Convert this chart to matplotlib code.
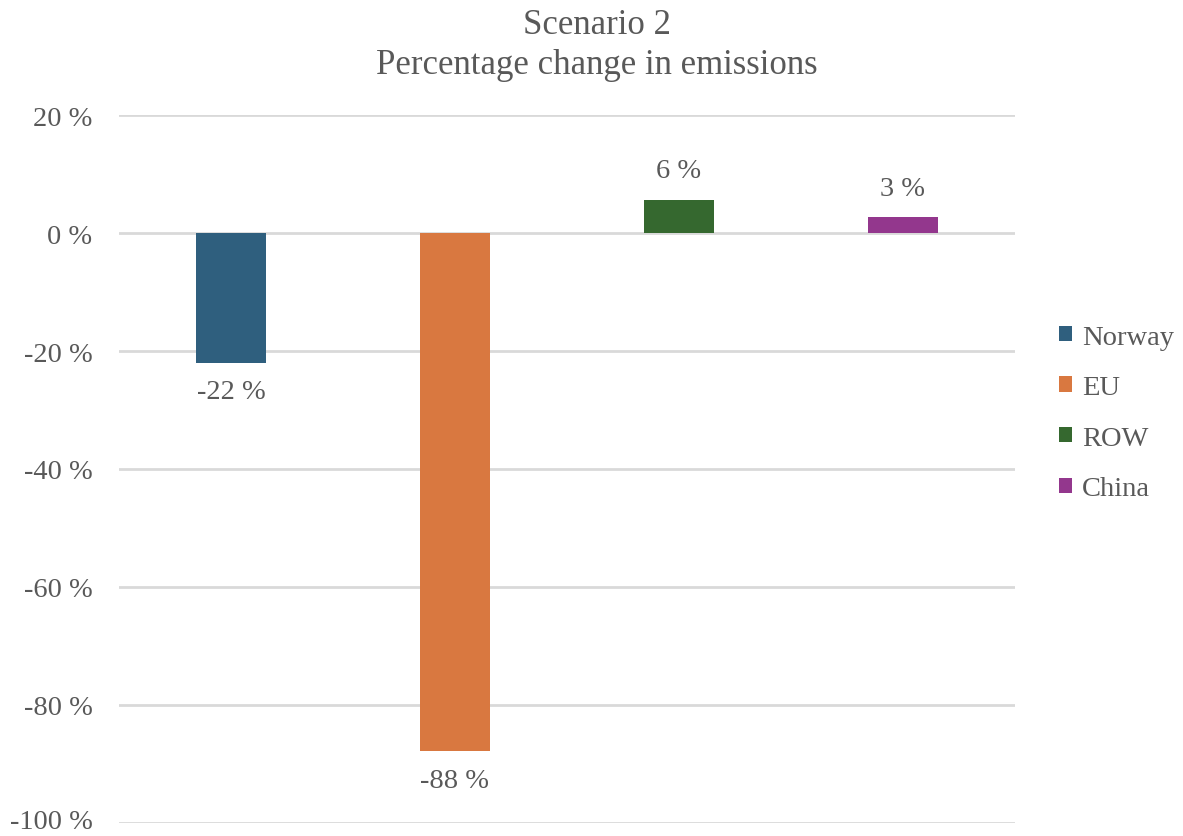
import matplotlib
matplotlib.use("Agg")
import matplotlib.pyplot as plt
import matplotlib.transforms as mtransforms
from matplotlib.patches import Patch

regions = ["Norway", "EU", "ROW", "China"]
change_pct = [-22.0, -87.8, 5.6, 2.7]
colors = ["#2F5F7E", "#D97840", "#35682F", "#93378D"]
y_ticks = [20, 0, -20, -40, -60, -80, -100]
title_lines = ["Scenario 2", "Percentage change in emissions"]

TEXT = "#595959"
plt.rcParams["font.family"] = ["Liberation Serif", "DejaVu Serif"]

fig = plt.figure(figsize=(11.83, 8.37), dpi=100)
ax = fig.add_axes([119 / 1183, 1 - 824 / 837, (1015 - 119) / 1183, (824 - 116) / 837])

xs = list(range(len(regions)))
ax.bar(xs, change_pct, width=0.31, color=colors, zorder=3)

for x, v in zip(xs, change_pct):
    off = 29 if v >= 0 else -29
    ax.annotate(f"{v:.0f} %", xy=(x, v), xytext=(0, off), textcoords="offset pixels",
                ha="center", va="center", fontsize=20.5, color=TEXT)

ax.set_xlim(-0.5, len(regions) - 0.5)
ax.set_ylim(min(y_ticks), max(y_ticks))
ax.set_yticks(y_ticks)
ax.set_yticklabels([f"{t} %" for t in y_ticks], fontsize=20.5, color=TEXT)
ax.tick_params(axis="y", length=0, pad=19)
ax.set_xticks([])
for s in ax.spines.values():
    s.set_visible(False)
ax.yaxis.grid(True, color="#D9D9D9", linewidth=2, zorder=0)
ax.set_axisbelow(True)

# keep the bottom tick label inside the canvas
lowest = min(ax.get_yticklabels(), key=lambda t: t.get_position()[1])
lowest.set_transform(lowest.get_transform() +
                     mtransforms.ScaledTranslation(0, 3 / 72, fig.dpi_scale_trans))

fig.text(597 / 1183, 1 - 26 / 837, title_lines[0], ha="center", va="center",
         fontsize=25, color=TEXT)
fig.text(597 / 1183, 1 - 66 / 837, title_lines[1], ha="center", va="center",
         fontsize=25, color=TEXT)

handles = [Patch(facecolor=c, edgecolor="none") for c in colors]
leg = fig.legend(handles, regions, loc="center left",
                 bbox_to_anchor=(1059 / 1183, 1 - 414 / 837),
                 frameon=False, fontsize=20.5, handlelength=0.45, handleheight=0.45,
                 handletextpad=0.35, labelspacing=0.9, borderaxespad=0, borderpad=0)
for t in leg.get_texts():
    t.set_color(TEXT)

fig.savefig("out.png", dpi=100, facecolor="white")
